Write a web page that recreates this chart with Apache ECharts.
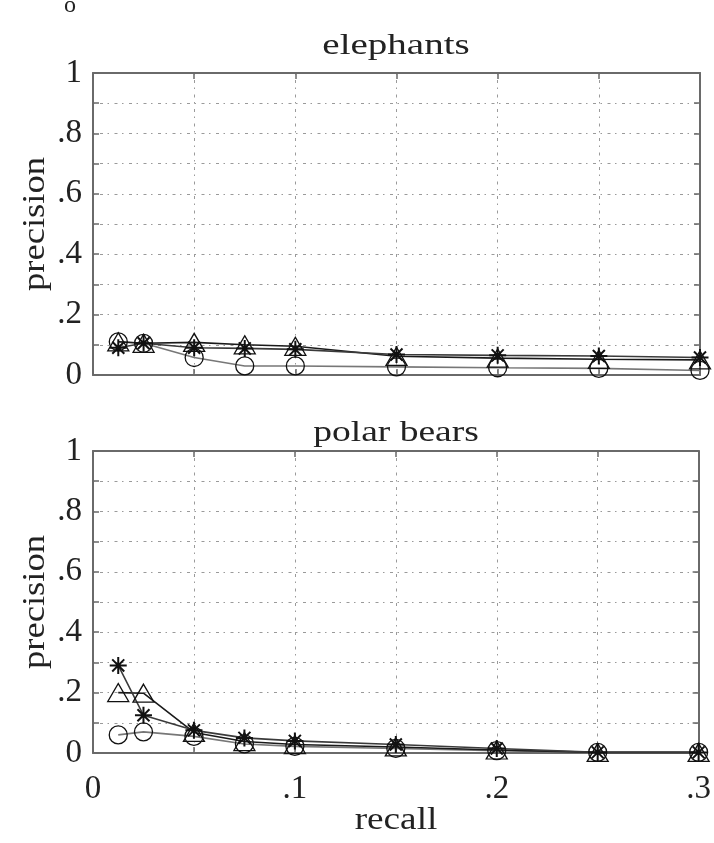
<!DOCTYPE html>
<html>
<head>
<meta charset="utf-8">
<script src="https://cdn.jsdelivr.net/npm/echarts@6/dist/echarts.min.js"></script>
<style>
html,body{margin:0;padding:0;background:#fff;}
#chart{width:714px;height:843px;}
</style>
</head>
<body>
<div id="chart"></div>
<script>
// ---- data ----
const recall = [0.0125, 0.025, 0.05, 0.075, 0.1, 0.15, 0.2, 0.25, 0.3];
const elephantsCircle   = [0.11, 0.105, 0.058, 0.03, 0.03, 0.027, 0.024, 0.022, 0.015];
const elephantsTriangle = [0.11, 0.105, 0.108, 0.1, 0.095, 0.062, 0.056, 0.052, 0.05];
const elephantsStar     = [0.09, 0.105, 0.09, 0.088, 0.085, 0.068, 0.065, 0.063, 0.058];
const polarCircle   = [0.06, 0.07, 0.055, 0.03, 0.022, 0.015, 0.008, 0.002, 0.002];
const polarTriangle = [0.2, 0.198, 0.068, 0.038, 0.028, 0.02, 0.01, 0.002, 0.002];
const polarStar     = [0.29, 0.125, 0.075, 0.05, 0.04, 0.028, 0.015, 0.002, 0.002];
const yTickLabels = ['0', '.2', '.4', '.6', '.8', '1'];
const xTickLabels = ['0', '.1', '.2', '.3'];
const panelTitles = ['elephants', 'polar bears'];

// ---- chart ----
const FONT = 'Liberation Serif';
const chart = echarts.init(document.getElementById('chart'), null, {renderer: 'canvas'});

const pairs = arr => recall.map((x, i) => [x, arr[i]]);
const frameColor = '#6a6a6a';
const gridLine = {show: true, lineStyle: {color: '#9a9a9a', width: 1, type: [1.5, 5.5, 3, 4.5]}};

function yLabel(v) {
  const k = Math.round(v * 10);
  if (k % 2 !== 0) return '';
  return yTickLabels[k / 2];
}
function xLabel(v) {
  const k = Math.round(v * 20);
  if (k % 2 !== 0) return '';
  return xTickLabels[k / 2];
}

function xAxisDef(gridIndex, showLabels, mirrored) {
  return {
    type: 'value', gridIndex, min: 0, max: 0.3, interval: 0.05,
    position: mirrored ? 'top' : 'bottom',
    axisLine: {show: true, onZero: false, lineStyle: {color: frameColor, width: 2}},
    axisTick: {show: true, inside: true, length: 6, lineStyle: {color: frameColor, width: 1.5}},
    axisLabel: {show: showLabels && !mirrored, formatter: xLabel, margin: 20,
      fontFamily: FONT, fontSize: 33, color: '#222'},
    splitLine: mirrored ? {show: false} : gridLine
  };
}
function yAxisDef(gridIndex, mirrored) {
  return {
    type: 'value', gridIndex, min: 0, max: 1, interval: 0.1,
    position: mirrored ? 'right' : 'left',
    axisLine: {show: true, onZero: false, lineStyle: {color: frameColor, width: 2}},
    axisTick: {show: true, inside: true, length: 6, lineStyle: {color: frameColor, width: 1.5}},
    axisLabel: {show: !mirrored, formatter: yLabel, margin: 11,
      fontFamily: FONT, fontSize: 33, color: '#222'},
    splitLine: mirrored ? {show: false} : gridLine
  };
}

const starPath = 'path://M0,-10L0,10M-10,0L10,0M-7.07,-7.07L7.07,7.07M-7.07,7.07L7.07,-7.07';

function makeSeries(data, kind, axisIdx) {
  let symbol, size, lineColor;
  if (kind === 'circle') { symbol = 'circle'; size = 18; lineColor = '#777'; }
  else if (kind === 'triangle') { symbol = 'triangle'; size = [21, 18]; lineColor = '#1a1a1a'; }
  else { symbol = starPath; size = 17; lineColor = '#3a3a3a'; }
  return {
    type: 'line', xAxisIndex: axisIdx, yAxisIndex: axisIdx,
    data: pairs(data), symbol, symbolSize: size, showAllSymbol: true,
    clip: false, animation: false,
    lineStyle: {color: lineColor, width: 1.6},
    itemStyle: {color: 'rgba(0,0,0,0)', borderColor: '#111', borderWidth: kind === 'star' ? 2 : 1.3}
  };
}

const texts = [
  {x: 396, y: 46, text: panelTitles[0], size: 30, sx: 1.3, rot: 0},
  {x: 396, y: 433, text: panelTitles[1], size: 30, sx: 1.25, rot: 0},
  {x: 36, y: 224, text: 'precision', size: 31, sx: 1.18, rot: Math.PI / 2},
  {x: 36, y: 602, text: 'precision', size: 31, sx: 1.18, rot: Math.PI / 2},
  {x: 396, y: 821, text: 'recall', size: 31, sx: 1.2, rot: 0},
  {x: 70, y: 6, text: 'o', size: 24, sx: 1, rot: 0}
];

const option = {
  backgroundColor: '#fff',
  animation: false,
  grid: [
    {left: 93, top: 73, width: 607, height: 302},
    {left: 93, top: 451, width: 607, height: 302}
  ],
  xAxis: [xAxisDef(0, false, false), xAxisDef(0, false, true), xAxisDef(1, true, false), xAxisDef(1, true, true)],
  yAxis: [yAxisDef(0, false), yAxisDef(0, true), yAxisDef(1, false), yAxisDef(1, true)],
  series: [
    makeSeries(elephantsCircle, 'circle', 0),
    makeSeries(elephantsTriangle, 'triangle', 0),
    makeSeries(elephantsStar, 'star', 0),
    makeSeries(polarCircle, 'circle', 2),
    makeSeries(polarTriangle, 'triangle', 2),
    makeSeries(polarStar, 'star', 2)
  ],
  graphic: texts.map(t => ({
    type: 'text', x: t.x, y: t.y, rotation: t.rot, scaleX: t.sx, scaleY: 1,
    style: {text: t.text, fontFamily: FONT, fontSize: t.size, fill: '#222',
      align: 'center', verticalAlign: 'middle'}
  }))
};
chart.setOption(option);
</script>
</body>
</html>
